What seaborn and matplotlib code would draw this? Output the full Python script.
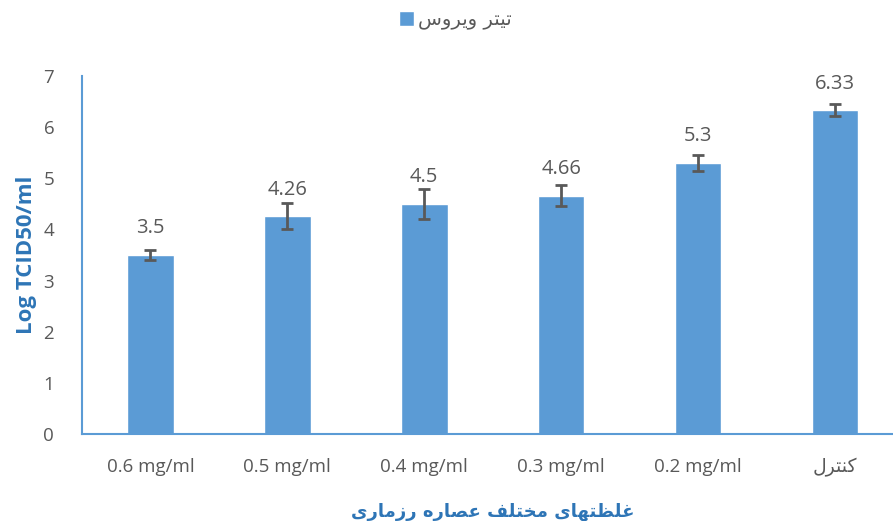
import matplotlib
matplotlib.use("Agg")
import matplotlib.pyplot as plt
import seaborn as sns
import pandas as pd
import numpy as np

# Persian strings written in visual order with Arabic presentation forms
# (matplotlib does not shape right-to-left text)
def vis(logical_forms):
    return "".join(reversed(logical_forms))

# "کنترل"
control = vis("\uFEDB\uFEE8\uFE98\uFEAE\uFEDD")
# "تیتر ویروس"
legend_label = vis("\uFE97\uFEF4\uFE98\uFEAE \uFEED\uFEF3\uFEAE\uFEED\uFEB1")
# "غلظتهای مختلف عصاره رزماری"
xtitle = vis("\uFECF\uFEE0\uFEC8\uFE98\uFEEC\uFE8E\uFEEF \uFEE3\uFEA8\uFE98\uFEE0\uFED2 "
             "\uFECB\uFEBC\uFE8E\uFEAD\uFEE9 \uFEAD\uFEAF\uFEE3\uFE8E\uFEAD\uFEEF")

categories = ["0.6 mg/ml", "0.5 mg/ml", "0.4 mg/ml", "0.3 mg/ml", "0.2 mg/ml", control]
values = [3.5, 4.26, 4.5, 4.66, 5.3, 6.33]
errors = [0.1, 0.25, 0.3, 0.2, 0.15, 0.12]
value_labels = ["3.5", "4.26", "4.5", "4.66", "5.3", "6.33"]
y_ticks = [0, 1, 2, 3, 4, 5, 6, 7]

BLUE = "#5B9BD5"
GREY = "#595959"
TITLE_BLUE = "#2E75B6"

sns.set_style("white")
plt.rcParams["font.family"] = ["Open Sans", "DejaVu Sans"]

fig = plt.figure(figsize=(8.93, 5.21), dpi=100)
ax = fig.add_axes([0.0918, 0.167, 0.92, 0.687])

df = pd.DataFrame({"cat": categories, "val": values})
sns.barplot(data=df, x="cat", y="val", color=BLUE, width=0.34, ax=ax,
            saturation=1, errorbar=None, label=legend_label)
ax.errorbar(np.arange(len(values)), values, yerr=errors, fmt="none",
            ecolor=GREY, elinewidth=2, capsize=4.3, capthick=2, zorder=5)

for i, (v, t) in enumerate(zip(values, value_labels)):
    ax.annotate(t, (i, v), xytext=(0, 12), textcoords="offset points",
                ha="center", va="bottom", fontsize=14.5, color=GREY)

ax.set_ylim(0, 7)
ax.set_xlim(-0.5, len(categories) - 0.5)
ax.set_yticks(y_ticks)
ax.tick_params(axis="y", length=0, pad=20, labelsize=13.5, labelcolor=GREY)
ax.tick_params(axis="x", length=0, pad=17, labelsize=13.5, labelcolor=GREY)
ax.set_xlabel(xtitle, fontsize=13, fontweight="bold", color=TITLE_BLUE,
              family=["DejaVu Sans"], labelpad=19)
ax.set_ylabel("Log TCID50/ml", fontsize=16, fontweight="bold", color=TITLE_BLUE,
              labelpad=5)

for s in ["top", "right"]:
    ax.spines[s].set_visible(False)
for s in ["left", "bottom"]:
    ax.spines[s].set_color(BLUE)
    ax.spines[s].set_linewidth(1.5)

leg = ax.legend(loc="center", bbox_to_anchor=(0.51, 0.961),
                bbox_transform=fig.transFigure, frameon=False,
                handlelength=0.8, handleheight=0.8, handletextpad=0.2,
                prop={"family": ["DejaVu Sans"], "size": 14})
for t in leg.get_texts():
    t.set_color(GREY)

fig.savefig("out.png", dpi=100)
